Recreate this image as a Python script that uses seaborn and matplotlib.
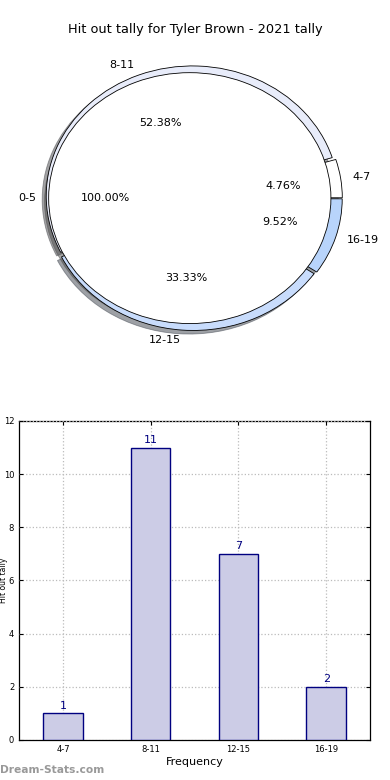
import matplotlib
matplotlib.use("Agg")
import matplotlib.pyplot as plt
import seaborn as sns
import pandas as pd

# ---- data ----
title = "Hit out tally for Tyler Brown - 2021 tally"
ring_labels = ["4-7", "8-11", "12-15", "16-19"]
ring_values = [1, 11, 7, 2]
ring_colors = ["#ffffff", "#e8ecfa", "#c8dcfc", "#b8d4fb"]
inner_labels = ["0-5"]
inner_values = [1]
bar_categories = ["4-7", "8-11", "12-15", "16-19"]
bar_values = [1, 11, 7, 2]
y_ticks = [0, 2, 4, 6, 8, 10, 12]

sns.set_style("white")
plt.rcParams['font.family'] = ['DejaVu Sans']
plt.rcParams['text.color'] = 'black'
plt.rcParams['axes.labelcolor'] = 'black'
plt.rcParams['xtick.color'] = 'black'
plt.rcParams['ytick.color'] = 'black'

fig = plt.figure(figsize=(3.9, 7.8), dpi=100)

# ---- pie (top) ----
ax1 = fig.add_axes([0.046, 0.546, 0.90, 0.40])
wp = dict(edgecolor="black", linewidth=0.6)
ax1.pie(ring_values, labels=ring_labels, colors=ring_colors, startangle=0,
        counterclock=True, explode=[0.018] * len(ring_values), shadow=True,
        autopct="%.2f%%", pctdistance=0.6, labeldistance=1.08,
        wedgeprops=wp, textprops=dict(fontsize=8, color="black"))
ax1.pie(inner_values, labels=inner_labels, colors=["#ffffff"], startangle=0,
        explode=[0.025], shadow=True, radius=0.965,
        autopct="%.2f%%", pctdistance=0.6, labeldistance=1.09,
        wedgeprops=wp, textprops=dict(fontsize=8, color="black"))
ax1.set_aspect("auto")
ax1.set_xlim(-1.2, 1.2)
ax1.set_ylim(-1.2, 1.2)
ax1.axis("off")

fig.text(0.5, 1 - 30 / 780, title, ha="center", va="center", fontsize=9.3,
         color="black")

# ---- bar (bottom) ----
ax2 = fig.add_axes([0.049, 0.0513, 0.9, 0.409])
df = pd.DataFrame({"cat": bar_categories, "val": bar_values})
sns.barplot(data=df, x="cat", y="val", ax=ax2, color="#ccccE6", saturation=1,
            edgecolor="#000080", linewidth=1.0, width=0.45, zorder=3)
for i, v in enumerate(bar_values):
    ax2.text(i, v + 0.1, str(v), ha="center", va="bottom", fontsize=8,
             color="#000080", zorder=4)
ax2.set_xlim(-0.5, 3.5)
ax2.set_ylim(0, 12)
ax2.set_yticks(y_ticks)
ax2.grid(True, linestyle=":", color="#bbbbbb", linewidth=0.9, zorder=5)
ax2.set_axisbelow(False)
for s in ax2.spines.values():
    s.set_visible(True)
    s.set_color("black")
    s.set_linewidth(0.9)
ax2.tick_params(axis="both", labelsize=6, direction="in", length=3,
                top=True, right=True, left=True, bottom=True, color="black")
ax2.set_xlabel("Frequency", fontsize=8, labelpad=2)
ax2.set_ylabel("Hit out tally", fontsize=5.5)
ax2.yaxis.set_label_coords(-0.031, 0.5)

fig.text(0.0, 1 - 770 / 780, "Dream-Stats.com", ha="left", va="center",
         fontsize=7.7, color="#999999", fontweight="bold")

fig.savefig("out.png", dpi=100)
